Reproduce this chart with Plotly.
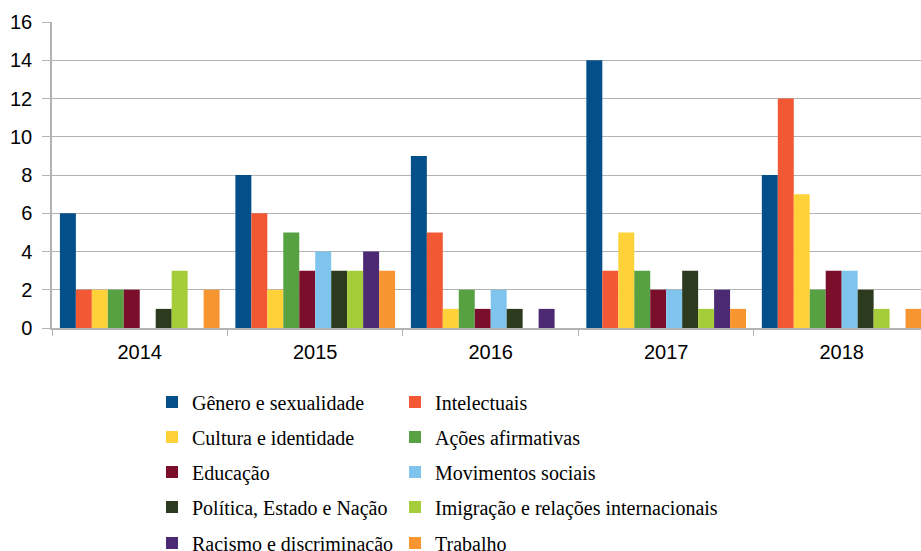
import plotly.graph_objects as go

years = ["2014", "2015", "2016", "2017", "2018"]
series_names = [
    "Gênero e sexualidade", "Intelectuais", "Cultura e identidade", "Ações afirmativas",
    "Educação", "Movimentos sociais", "Política, Estado e Nação",
    "Imigração e relações internacionais", "Racismo e discriminação", "Trabalho",
]
genero = [6, 8, 9, 14, 8]
intelectuais = [2, 6, 5, 3, 12]
cultura = [2, 2, 1, 5, 7]
acoes = [2, 5, 2, 3, 2]
educacao = [2, 3, 1, 2, 3]
movimentos = [0, 4, 2, 2, 3]
politica = [1, 3, 1, 3, 2]
imigracao = [3, 3, 0, 1, 1]
racismo = [0, 4, 1, 2, 0]
trabalho = [2, 3, 0, 1, 1]
series_values = [genero, intelectuais, cultura, acoes, educacao, movimentos,
                 politica, imigracao, racismo, trabalho]
colors = ["#034f8a", "#f15833", "#ffd23a", "#58a143", "#7b0f2b",
          "#7fc4ec", "#2c3b1d", "#a5cd3a", "#4b2a73", "#f79531"]
y_ticks = [0, 2, 4, 6, 8, 10, 12, 14, 16]

W, H = 921, 551
fig = go.Figure()
legend_names = ["legend"] + ["legend%d" % k for k in range(2, 11)]
for i, (name, vals, col) in enumerate(zip(series_names, series_values, colors)):
    fig.add_trace(go.Bar(
        x=years, y=vals, name=name, marker_color=col,
        marker_line_width=0, legend=legend_names[i],
    ))

row_y = [402, 437, 472, 507, 543]   # px (centres of legend rows)
col_x = [152, 395]                  # px (legend box left)
layout_legends = {}
for i, ln in enumerate(legend_names):
    ry = row_y[i // 2]
    cx = col_x[i % 2]
    layout_legends[ln] = dict(
        orientation="v", xref="container", yref="container",
        x=cx / W, xanchor="left", y=1 - ry / H, yanchor="middle",
        font=dict(family="Liberation Serif, Times New Roman, serif", size=20, color="#000000"),
        bgcolor="rgba(0,0,0,0)", itemclick=False, itemdoubleclick=False,
    )

fig.update_layout(
    width=W, height=H,
    margin=dict(l=52, r=0, t=22, b=H - 328, autoexpand=False),
    plot_bgcolor="white", paper_bgcolor="white",
    barmode="group", bargap=0.09, bargroupgap=0,
    showlegend=True,
    font=dict(family="Liberation Sans, Arial, sans-serif", size=20, color="#000000"),
    xaxis=dict(
        type="category", range=[-0.5, 4.452],
        showline=True, linecolor="#b3b3b3", linewidth=1.5,
        ticks="outside", tickson="boundaries", ticklen=6, tickcolor="#b3b3b3",
        showgrid=False, tickfont=dict(size=20), zeroline=False,
        ticklabelstandoff=5,
    ),
    yaxis=dict(
        range=[0, 16], tickvals=y_ticks,
        showgrid=True, gridcolor="#b3b3b3", gridwidth=1,
        showline=True, linecolor="#b3b3b3", linewidth=1.5,
        ticks="outside", ticklen=8, tickcolor="#b3b3b3",
        zeroline=False, tickfont=dict(size=20), ticklabelstandoff=6,
    ),
    **layout_legends,
)
fig.write_html(
    "out.html",
    config={"displayModeBar": False},
    post_script="document.body.style.margin='0';document.body.style.overflow='hidden';",
)
